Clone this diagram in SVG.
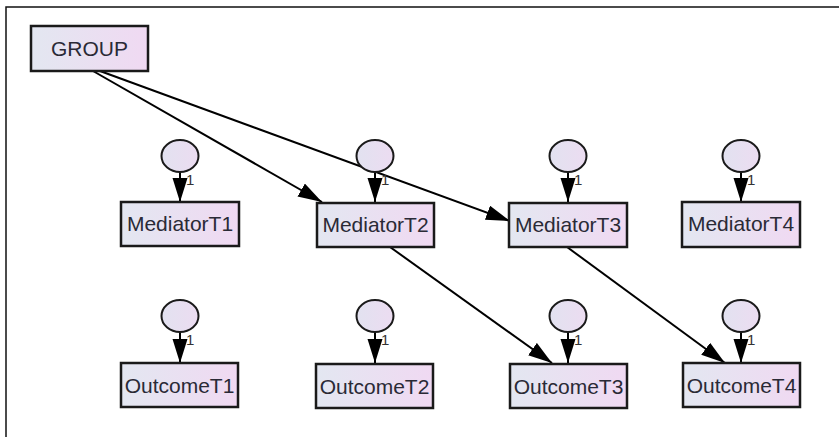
<svg xmlns="http://www.w3.org/2000/svg" width="839" height="437" viewBox="0 0 839 437">
<defs>
<linearGradient id="gBox" x1="0" y1="0" x2="1" y2="0">
<stop offset="0" stop-color="#e3e7f1"/>
<stop offset="1" stop-color="#f0d9f2"/>
</linearGradient>
<linearGradient id="gCirc" x1="0" y1="0" x2="1" y2="0">
<stop offset="0" stop-color="#e2e2f0"/>
<stop offset="1" stop-color="#ecdcf1"/>
</linearGradient>
<marker id="arr" markerUnits="userSpaceOnUse" markerWidth="26" markerHeight="16" refX="24" refY="7.5" orient="auto">
<path d="M0,0 L24,7.5 L0,15 z" fill="#000"/>
</marker>
<style>
.box{fill:url(#gBox);stroke:#1a1a1a;stroke-width:2.5}
.circ{fill:url(#gCirc);stroke:#1a1a1a;stroke-width:2}
.lbl{font-family:"Liberation Sans",Arial,sans-serif;font-size:21px;fill:#2a2a36;text-anchor:middle}
.one{font-family:"Liberation Sans",Arial,sans-serif;font-size:15px;fill:#333}
.edge{stroke:#000;stroke-width:2;fill:none;marker-end:url(#arr)}
</style>
</defs>
<rect width="839" height="437" fill="#fff"/>
<path d="M6,437 L6,7 L839,7" fill="none" stroke="#111" stroke-width="1.5"/>

<g id="connectors">
<line class="edge" x1="93" y1="71" x2="322" y2="202"/>
<line class="edge" x1="100" y1="71" x2="510" y2="221"/>
<line class="edge" x1="390" y1="247" x2="552" y2="363"/>
<line class="edge" x1="567" y1="247" x2="725" y2="363"/>
<line class="edge" x1="180" y1="172" x2="180" y2="202"/>
<line class="edge" x1="375" y1="172" x2="375" y2="202"/>
<line class="edge" x1="568" y1="172" x2="568" y2="202"/>
<line class="edge" x1="741" y1="172" x2="741" y2="202"/>
<line class="edge" x1="180" y1="332" x2="180" y2="363"/>
<line class="edge" x1="375" y1="332" x2="375" y2="363"/>
<line class="edge" x1="568" y1="332" x2="568" y2="363"/>
<line class="edge" x1="741" y1="332" x2="741" y2="363"/>
</g>

<g id="GROUP">
<rect class="box" x="31" y="26" width="117" height="45"/>
<text class="lbl" x="89.5" y="56">GROUP</text>
</g>

<g id="eM1"><ellipse class="circ" cx="180" cy="156" rx="18.5" ry="16"/><text class="one" x="186" y="185">1</text></g>
<g id="eM2"><ellipse class="circ" cx="375" cy="156" rx="18.5" ry="16"/><text class="one" x="381" y="185">1</text></g>
<g id="eM3"><ellipse class="circ" cx="568" cy="156" rx="18.5" ry="16"/><text class="one" x="574" y="185">1</text></g>
<g id="eM4"><ellipse class="circ" cx="741" cy="156" rx="18.5" ry="16"/><text class="one" x="747" y="185">1</text></g>
<g id="eO1"><ellipse class="circ" cx="180" cy="316" rx="18.5" ry="16"/><text class="one" x="186" y="345">1</text></g>
<g id="eO2"><ellipse class="circ" cx="375" cy="316" rx="18.5" ry="16"/><text class="one" x="381" y="345">1</text></g>
<g id="eO3"><ellipse class="circ" cx="568" cy="316" rx="18.5" ry="16"/><text class="one" x="574" y="345">1</text></g>
<g id="eO4"><ellipse class="circ" cx="741" cy="316" rx="18.5" ry="16"/><text class="one" x="747" y="345">1</text></g>

<g id="MediatorT1"><rect class="box" x="121" y="202" width="118" height="44"/><text class="lbl" x="180" y="231">MediatorT1</text></g>
<g id="MediatorT2"><rect class="box" x="317" y="203" width="117" height="44"/><text class="lbl" x="375.5" y="232">MediatorT2</text></g>
<g id="MediatorT3"><rect class="box" x="509" y="203" width="118" height="44"/><text class="lbl" x="568" y="232">MediatorT3</text></g>
<g id="MediatorT4"><rect class="box" x="682" y="202" width="118" height="45"/><text class="lbl" x="741" y="231">MediatorT4</text></g>

<g id="OutcomeT1"><rect class="box" x="121" y="363" width="117" height="44"/><text class="lbl" x="179.5" y="393">OutcomeT1</text></g>
<g id="OutcomeT2"><rect class="box" x="316" y="364" width="117" height="44"/><text class="lbl" x="374.5" y="394">OutcomeT2</text></g>
<g id="OutcomeT3"><rect class="box" x="510" y="364" width="117" height="44"/><text class="lbl" x="568.5" y="394">OutcomeT3</text></g>
<g id="OutcomeT4"><rect class="box" x="683" y="363" width="117" height="44"/><text class="lbl" x="741.5" y="393">OutcomeT4</text></g>
</svg>
